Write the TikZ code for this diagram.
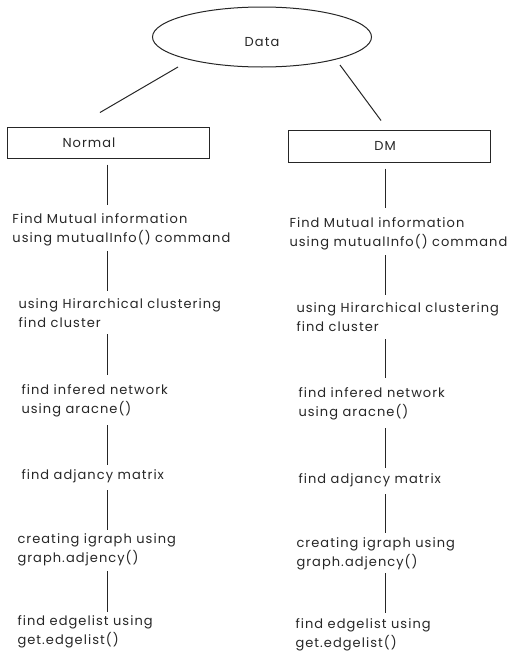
\documentclass[tikz,border=0pt]{standalone}
\usepackage{fontspec}
\newfontfamily\flowfont[LetterSpace=8]{Poppins}
\usetikzlibrary{shapes.geometric,calc}

\begin{document}
\begin{tikzpicture}[x=1pt,y=-1pt, line width=1pt, draw=black!85,
   every node/.style={text=black!85},
   every label/.style={font=\flowfont\fontsize{13}{19}\selectfont, text=black!85},
   stage/.style={anchor=north west, inner sep=0pt, align=left, font=\flowfont\fontsize{13}{19}\selectfont},
   branch/.style={rectangle, draw, minimum width=202pt, minimum height=31pt}]
 \useasboundingbox (0,0) rectangle (508,651);
 \node (data) [ellipse, draw, minimum width=219pt, minimum height=60pt,
               label={[yshift=-5pt]center:Data}] at (262,37) {};
 \node (normal) [branch, label={[xshift=-19pt]center:Normal}] at (108,142.5) {};
 \node (dm) [branch, minimum height=32pt, label={[xshift=-4pt]center:DM}] at (389,146) {};
 \draw ($(data.center)+(-84,30)$) -- ($(normal.north)+(-8,-14)$);
 \draw ($(data.center)+(78,28)$) -- ($(dm.north)+(-8,-9)$);
 % Normal
 \coordinate (lx) at (107.5,0);
 \node (n1) [stage] at (12,213) {Find Mutual information\\using mutualInfo() command};
 \node (n2) [stage] at (18,298) {using Hirarchical clustering\\find cluster};
 \node (n3) [stage] at (21,384) {find infered network\\using aracne()};
 \node (n4) [stage] at (21,469) {find adjancy matrix};
 \node (n5) [stage] at (17,533) {creating igraph using\\graph.adjency()};
 \node (n6) [stage] at (17,615) {find edgelist using\\get.edgelist()};
 % DM
 \coordinate (rx) at (385.5,0);
 \node (d1) [stage] at (289,217) {Find Mutual information\\using mutualInfo() command};
 \node (d2) [stage] at (296,302) {using Hirarchical clustering\\find cluster};
 \node (d3) [stage] at (298,387) {find infered network\\using aracne()};
 \node (d4) [stage] at (298,473) {find adjancy matrix};
 \node (d5) [stage] at (296,537) {creating igraph using\\graph.adjency()};
 \node (d6) [stage] at (295,618) {find edgelist using\\get.edgelist()};
 \foreach \a/\b/\s/\e in {normal/n1/6/8, n1/n2/5/7, n2/n3/6/9, n3/n4/8/4, n4/n5/7/3, n5/n6/5/3}
   \draw[line width=1.2pt] ([yshift=-\s pt]\a.south -| lx) -- ([yshift=\e pt]\b.north -| lx);
 \foreach \a/\b/\s/\e in {dm/d1/6/9, d1/d2/5/7, d2/d3/7/9, d3/d4/8/5, d4/d5/7/4, d5/d6/3/5}
   \draw[line width=1.2pt] ([yshift=-\s pt]\a.south -| rx) -- ([yshift=\e pt]\b.north -| rx);
\end{tikzpicture}
\end{document}
